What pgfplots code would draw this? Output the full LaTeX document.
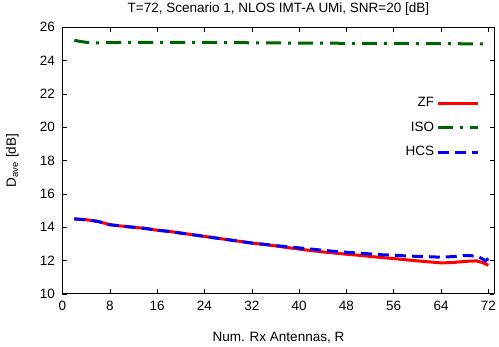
\documentclass[border=0pt]{standalone}
\usepackage{fontspec}
\setmainfont{Liberation Sans}
\usepackage{pgfplots}
\pgfplotsset{compat=1.18}

\definecolor{zfred}{RGB}{255,0,0}
\definecolor{isogreen}{RGB}{0,100,0}
\definecolor{hcsblue}{RGB}{0,0,255}

\begin{document}
\fontsize{13.5}{16}\selectfont
\begin{tikzpicture}
\begin{axis}[
    scale only axis,
    width=432pt, height=266.7pt,
    xmin=0, xmax=73, ymin=10, ymax=26,
    xtick={0,8,...,72}, ytick={10,12,...,26},
    tick align=inside, tick style={black, line width=0.5pt},
    major tick length=4.5pt,
    axis line style={line width=0.9pt},
    /pgf/number format/assume math mode=true,
    ticklabel style={font=\fontsize{13.5}{16}\selectfont},
    yticklabel style={xshift=-3pt},
    xticklabel style={yshift=-2pt},
    every axis title shift=0pt,
    title={T=72, Scenario 1, NLOS IMT-A UMi, SNR=20 [dB]},
    title style={font=\fontsize{13.5}{16}\selectfont,
        at={(axis description cs:0.5,1.07)}, anchor=center},
    xlabel={Num. Rx Antennas, R},
    ylabel={D\textsubscript{ave} [dB]},
    label style={font=\fontsize{13.5}{16}\selectfont},
    xlabel style={at={(axis description cs:0.5,-0.165)}, anchor=center},
    ylabel style={at={(axis description cs:-0.116,0.5)}, anchor=center},
    legend style={draw=none, fill=none, at={(0.972,0.752)}, anchor=north east,
        font=\fontsize{13.5}{16}\selectfont, row sep=9pt},
    legend cell align=right,
    legend plot pos=right,
    legend image code/.code={\draw[#1] (0pt,0pt) -- (40pt,0pt);},
]
\addplot[zfred, line width=3pt, no marks] coordinates {
    (2,14.5)(4,14.45)(6,14.35)(8,14.15)(10,14.07)(12,14.0)(14,13.93)(16,13.82)
    (18,13.75)(20,13.65)(22,13.55)(24,13.45)(26,13.35)(28,13.25)(30,13.15)
    (32,13.05)(34,12.97)(36,12.88)(38,12.78)(40,12.69)(42,12.6)(44,12.52)
    (46,12.45)(48,12.38)(50,12.32)(52,12.25)(54,12.18)(56,12.12)(58,12.05)
    (60,11.98)(62,11.92)(64,11.86)(66,11.88)(68,11.95)(70,11.98)(71,11.88)(72,11.72)};
\addlegendentry{ZF}
\addplot[isogreen, line width=3pt, no marks,
    dash pattern=on 15pt off 7pt on 3pt off 7pt] coordinates {
    (2,25.22)(3,25.15)(4,25.1)(5,25.07)(6,25.06)(8,25.08)(12,25.1)(16,25.1)
    (24,25.09)(32,25.07)(40,25.05)(48,25.04)(56,25.03)(64,25.02)(72,25.0)};
\addlegendentry{ISO}
\addplot[hcsblue, line width=3pt, no marks,
    dash pattern=on 11pt off 6pt] coordinates {
    (2,14.5)(4,14.45)(6,14.35)(8,14.15)(10,14.07)(12,14.0)(14,13.93)(16,13.82)
    (18,13.75)(20,13.65)(22,13.55)(24,13.45)(26,13.35)(28,13.25)(30,13.15)
    (32,13.05)(34,12.98)(36,12.9)(38,12.83)(40,12.76)(42,12.69)(44,12.62)
    (46,12.55)(48,12.5)(50,12.45)(52,12.4)(54,12.35)(56,12.32)(58,12.28)
    (60,12.25)(62,12.23)(64,12.2)(66,12.24)(68,12.3)(70,12.28)(71,12.1)(71.5,11.98)(72,12.12)};
\addlegendentry{HCS}
\end{axis}
\pgfresetboundingbox
\path ([xshift=-62.5pt,yshift=-53pt]current axis.south west)
    rectangle ([xshift=4.7pt,yshift=27.3pt]current axis.north east);
\end{tikzpicture}
\end{document}
